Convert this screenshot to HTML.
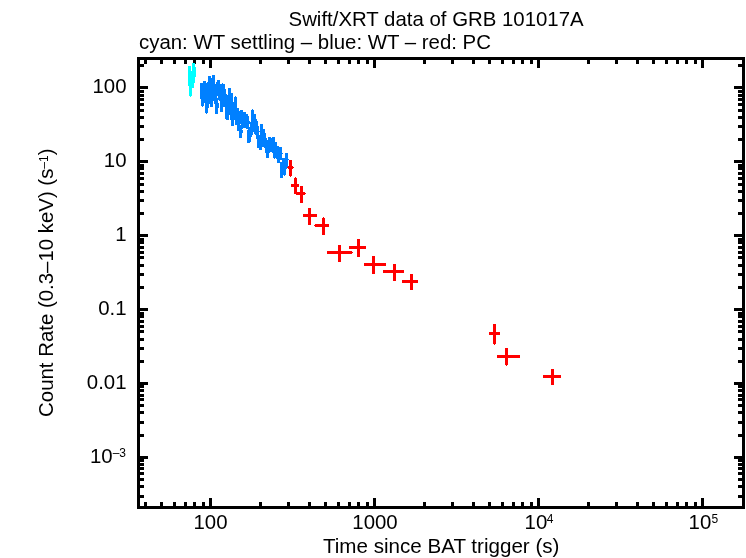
<!DOCTYPE html>
<html><head><meta charset="utf-8"><title>Swift/XRT data of GRB 101017A</title>
<style>
html,body{margin:0;padding:0;background:#fff;}
svg{display:block}
text{font-family:"Liberation Sans",sans-serif;font-size:20.4px;fill:#000}
</style></head><body>
<svg width="746" height="558" viewBox="0 0 746 558">
<rect width="746" height="558" fill="#fff"/>
<g shape-rendering="crispEdges">
<rect x="137" y="57" width="608" height="3" fill="#000"/>
<rect x="137" y="506" width="608" height="3" fill="#000"/>
<rect x="137" y="57" width="3" height="452" fill="#000"/>
<rect x="742" y="57" width="3" height="452" fill="#000"/>
<rect x="144" y="57" width="3" height="7" fill="#000"/>
<rect x="144" y="502" width="3" height="7" fill="#000"/>
<rect x="160" y="57" width="3" height="7" fill="#000"/>
<rect x="160" y="502" width="3" height="7" fill="#000"/>
<rect x="173" y="57" width="3" height="7" fill="#000"/>
<rect x="173" y="502" width="3" height="7" fill="#000"/>
<rect x="184" y="57" width="3" height="7" fill="#000"/>
<rect x="184" y="502" width="3" height="7" fill="#000"/>
<rect x="193" y="57" width="3" height="7" fill="#000"/>
<rect x="193" y="502" width="3" height="7" fill="#000"/>
<rect x="202" y="57" width="3" height="7" fill="#000"/>
<rect x="202" y="502" width="3" height="7" fill="#000"/>
<rect x="209" y="57" width="3" height="11" fill="#000"/>
<rect x="209" y="498" width="3" height="11" fill="#000"/>
<rect x="259" y="57" width="3" height="7" fill="#000"/>
<rect x="259" y="502" width="3" height="7" fill="#000"/>
<rect x="287" y="57" width="3" height="7" fill="#000"/>
<rect x="287" y="502" width="3" height="7" fill="#000"/>
<rect x="308" y="57" width="3" height="7" fill="#000"/>
<rect x="308" y="502" width="3" height="7" fill="#000"/>
<rect x="324" y="57" width="3" height="7" fill="#000"/>
<rect x="324" y="502" width="3" height="7" fill="#000"/>
<rect x="337" y="57" width="3" height="7" fill="#000"/>
<rect x="337" y="502" width="3" height="7" fill="#000"/>
<rect x="348" y="57" width="3" height="7" fill="#000"/>
<rect x="348" y="502" width="3" height="7" fill="#000"/>
<rect x="357" y="57" width="3" height="7" fill="#000"/>
<rect x="357" y="502" width="3" height="7" fill="#000"/>
<rect x="366" y="57" width="3" height="7" fill="#000"/>
<rect x="366" y="502" width="3" height="7" fill="#000"/>
<rect x="373" y="57" width="3" height="11" fill="#000"/>
<rect x="373" y="498" width="3" height="11" fill="#000"/>
<rect x="423" y="57" width="3" height="7" fill="#000"/>
<rect x="423" y="502" width="3" height="7" fill="#000"/>
<rect x="451" y="57" width="3" height="7" fill="#000"/>
<rect x="451" y="502" width="3" height="7" fill="#000"/>
<rect x="472" y="57" width="3" height="7" fill="#000"/>
<rect x="472" y="502" width="3" height="7" fill="#000"/>
<rect x="488" y="57" width="3" height="7" fill="#000"/>
<rect x="488" y="502" width="3" height="7" fill="#000"/>
<rect x="501" y="57" width="3" height="7" fill="#000"/>
<rect x="501" y="502" width="3" height="7" fill="#000"/>
<rect x="512" y="57" width="3" height="7" fill="#000"/>
<rect x="512" y="502" width="3" height="7" fill="#000"/>
<rect x="521" y="57" width="3" height="7" fill="#000"/>
<rect x="521" y="502" width="3" height="7" fill="#000"/>
<rect x="530" y="57" width="3" height="7" fill="#000"/>
<rect x="530" y="502" width="3" height="7" fill="#000"/>
<rect x="537" y="57" width="3" height="11" fill="#000"/>
<rect x="537" y="498" width="3" height="11" fill="#000"/>
<rect x="587" y="57" width="3" height="7" fill="#000"/>
<rect x="587" y="502" width="3" height="7" fill="#000"/>
<rect x="615" y="57" width="3" height="7" fill="#000"/>
<rect x="615" y="502" width="3" height="7" fill="#000"/>
<rect x="636" y="57" width="3" height="7" fill="#000"/>
<rect x="636" y="502" width="3" height="7" fill="#000"/>
<rect x="652" y="57" width="3" height="7" fill="#000"/>
<rect x="652" y="502" width="3" height="7" fill="#000"/>
<rect x="665" y="57" width="3" height="7" fill="#000"/>
<rect x="665" y="502" width="3" height="7" fill="#000"/>
<rect x="676" y="57" width="3" height="7" fill="#000"/>
<rect x="676" y="502" width="3" height="7" fill="#000"/>
<rect x="685" y="57" width="3" height="7" fill="#000"/>
<rect x="685" y="502" width="3" height="7" fill="#000"/>
<rect x="694" y="57" width="3" height="7" fill="#000"/>
<rect x="694" y="502" width="3" height="7" fill="#000"/>
<rect x="701" y="57" width="3" height="11" fill="#000"/>
<rect x="701" y="498" width="3" height="11" fill="#000"/>
<rect x="137" y="495" width="7" height="3" fill="#000"/>
<rect x="738" y="495" width="7" height="3" fill="#000"/>
<rect x="137" y="485" width="7" height="3" fill="#000"/>
<rect x="738" y="485" width="7" height="3" fill="#000"/>
<rect x="137" y="478" width="7" height="3" fill="#000"/>
<rect x="738" y="478" width="7" height="3" fill="#000"/>
<rect x="137" y="472" width="7" height="3" fill="#000"/>
<rect x="738" y="472" width="7" height="3" fill="#000"/>
<rect x="137" y="467" width="7" height="3" fill="#000"/>
<rect x="738" y="467" width="7" height="3" fill="#000"/>
<rect x="137" y="463" width="7" height="3" fill="#000"/>
<rect x="738" y="463" width="7" height="3" fill="#000"/>
<rect x="137" y="459" width="7" height="3" fill="#000"/>
<rect x="738" y="459" width="7" height="3" fill="#000"/>
<rect x="137" y="456" width="11" height="3" fill="#000"/>
<rect x="734" y="456" width="11" height="3" fill="#000"/>
<rect x="137" y="434" width="7" height="3" fill="#000"/>
<rect x="738" y="434" width="7" height="3" fill="#000"/>
<rect x="137" y="421" width="7" height="3" fill="#000"/>
<rect x="738" y="421" width="7" height="3" fill="#000"/>
<rect x="137" y="411" width="7" height="3" fill="#000"/>
<rect x="738" y="411" width="7" height="3" fill="#000"/>
<rect x="137" y="404" width="7" height="3" fill="#000"/>
<rect x="738" y="404" width="7" height="3" fill="#000"/>
<rect x="137" y="398" width="7" height="3" fill="#000"/>
<rect x="738" y="398" width="7" height="3" fill="#000"/>
<rect x="137" y="394" width="7" height="3" fill="#000"/>
<rect x="738" y="394" width="7" height="3" fill="#000"/>
<rect x="137" y="389" width="7" height="3" fill="#000"/>
<rect x="738" y="389" width="7" height="3" fill="#000"/>
<rect x="137" y="385" width="7" height="3" fill="#000"/>
<rect x="738" y="385" width="7" height="3" fill="#000"/>
<rect x="137" y="382" width="11" height="3" fill="#000"/>
<rect x="734" y="382" width="11" height="3" fill="#000"/>
<rect x="137" y="360" width="7" height="3" fill="#000"/>
<rect x="738" y="360" width="7" height="3" fill="#000"/>
<rect x="137" y="347" width="7" height="3" fill="#000"/>
<rect x="738" y="347" width="7" height="3" fill="#000"/>
<rect x="137" y="338" width="7" height="3" fill="#000"/>
<rect x="738" y="338" width="7" height="3" fill="#000"/>
<rect x="137" y="330" width="7" height="3" fill="#000"/>
<rect x="738" y="330" width="7" height="3" fill="#000"/>
<rect x="137" y="325" width="7" height="3" fill="#000"/>
<rect x="738" y="325" width="7" height="3" fill="#000"/>
<rect x="137" y="320" width="7" height="3" fill="#000"/>
<rect x="738" y="320" width="7" height="3" fill="#000"/>
<rect x="137" y="315" width="7" height="3" fill="#000"/>
<rect x="738" y="315" width="7" height="3" fill="#000"/>
<rect x="137" y="312" width="7" height="3" fill="#000"/>
<rect x="738" y="312" width="7" height="3" fill="#000"/>
<rect x="137" y="308" width="11" height="3" fill="#000"/>
<rect x="734" y="308" width="11" height="3" fill="#000"/>
<rect x="137" y="286" width="7" height="3" fill="#000"/>
<rect x="738" y="286" width="7" height="3" fill="#000"/>
<rect x="137" y="273" width="7" height="3" fill="#000"/>
<rect x="738" y="273" width="7" height="3" fill="#000"/>
<rect x="137" y="264" width="7" height="3" fill="#000"/>
<rect x="738" y="264" width="7" height="3" fill="#000"/>
<rect x="137" y="256" width="7" height="3" fill="#000"/>
<rect x="738" y="256" width="7" height="3" fill="#000"/>
<rect x="137" y="251" width="7" height="3" fill="#000"/>
<rect x="738" y="251" width="7" height="3" fill="#000"/>
<rect x="137" y="246" width="7" height="3" fill="#000"/>
<rect x="738" y="246" width="7" height="3" fill="#000"/>
<rect x="137" y="241" width="7" height="3" fill="#000"/>
<rect x="738" y="241" width="7" height="3" fill="#000"/>
<rect x="137" y="238" width="7" height="3" fill="#000"/>
<rect x="738" y="238" width="7" height="3" fill="#000"/>
<rect x="137" y="234" width="11" height="3" fill="#000"/>
<rect x="734" y="234" width="11" height="3" fill="#000"/>
<rect x="137" y="212" width="7" height="3" fill="#000"/>
<rect x="738" y="212" width="7" height="3" fill="#000"/>
<rect x="137" y="199" width="7" height="3" fill="#000"/>
<rect x="738" y="199" width="7" height="3" fill="#000"/>
<rect x="137" y="190" width="7" height="3" fill="#000"/>
<rect x="738" y="190" width="7" height="3" fill="#000"/>
<rect x="137" y="183" width="7" height="3" fill="#000"/>
<rect x="738" y="183" width="7" height="3" fill="#000"/>
<rect x="137" y="177" width="7" height="3" fill="#000"/>
<rect x="738" y="177" width="7" height="3" fill="#000"/>
<rect x="137" y="172" width="7" height="3" fill="#000"/>
<rect x="738" y="172" width="7" height="3" fill="#000"/>
<rect x="137" y="167" width="7" height="3" fill="#000"/>
<rect x="738" y="167" width="7" height="3" fill="#000"/>
<rect x="137" y="164" width="7" height="3" fill="#000"/>
<rect x="738" y="164" width="7" height="3" fill="#000"/>
<rect x="137" y="160" width="11" height="3" fill="#000"/>
<rect x="734" y="160" width="11" height="3" fill="#000"/>
<rect x="137" y="138" width="7" height="3" fill="#000"/>
<rect x="738" y="138" width="7" height="3" fill="#000"/>
<rect x="137" y="125" width="7" height="3" fill="#000"/>
<rect x="738" y="125" width="7" height="3" fill="#000"/>
<rect x="137" y="116" width="7" height="3" fill="#000"/>
<rect x="738" y="116" width="7" height="3" fill="#000"/>
<rect x="137" y="109" width="7" height="3" fill="#000"/>
<rect x="738" y="109" width="7" height="3" fill="#000"/>
<rect x="137" y="103" width="7" height="3" fill="#000"/>
<rect x="738" y="103" width="7" height="3" fill="#000"/>
<rect x="137" y="98" width="7" height="3" fill="#000"/>
<rect x="738" y="98" width="7" height="3" fill="#000"/>
<rect x="137" y="94" width="7" height="3" fill="#000"/>
<rect x="738" y="94" width="7" height="3" fill="#000"/>
<rect x="137" y="90" width="7" height="3" fill="#000"/>
<rect x="738" y="90" width="7" height="3" fill="#000"/>
<rect x="137" y="86" width="11" height="3" fill="#000"/>
<rect x="734" y="86" width="11" height="3" fill="#000"/>
<rect x="137" y="64" width="7" height="3" fill="#000"/>
<rect x="738" y="64" width="7" height="3" fill="#000"/>
<rect x="188" y="66" width="1" height="20" fill="#0ff"/>
<rect x="189" y="66" width="1" height="30" fill="#0ff"/>
<rect x="190" y="66" width="1" height="31" fill="#0ff"/>
<rect x="191" y="71" width="1" height="25" fill="#0ff"/>
<rect x="192" y="63" width="1" height="25" fill="#0ff"/>
<rect x="193" y="63" width="1" height="25" fill="#0ff"/>
<rect x="194" y="63" width="1" height="20" fill="#0ff"/>
<rect x="195" y="67" width="1" height="10" fill="#0ff"/>
<rect x="200" y="83" width="1" height="16" fill="#0080ff"/>
<rect x="201" y="83" width="1" height="23" fill="#0080ff"/>
<rect x="202" y="83" width="1" height="24" fill="#0080ff"/>
<rect x="203" y="81" width="1" height="25" fill="#0080ff"/>
<rect x="204" y="81" width="1" height="22" fill="#0080ff"/>
<rect x="205" y="81" width="1" height="32" fill="#0080ff"/>
<rect x="206" y="83" width="1" height="31" fill="#0080ff"/>
<rect x="207" y="82" width="1" height="31" fill="#0080ff"/>
<rect x="208" y="76" width="1" height="32" fill="#0080ff"/>
<rect x="209" y="76" width="1" height="28" fill="#0080ff"/>
<rect x="210" y="76" width="1" height="31" fill="#0080ff"/>
<rect x="211" y="78" width="1" height="29" fill="#0080ff"/>
<rect x="212" y="75" width="1" height="32" fill="#0080ff"/>
<rect x="213" y="75" width="1" height="26" fill="#0080ff"/>
<rect x="214" y="75" width="1" height="29" fill="#0080ff"/>
<rect x="215" y="84" width="1" height="30" fill="#0080ff"/>
<rect x="216" y="82" width="1" height="32" fill="#0080ff"/>
<rect x="217" y="80" width="1" height="34" fill="#0080ff"/>
<rect x="218" y="80" width="1" height="28" fill="#0080ff"/>
<rect x="219" y="80" width="1" height="21" fill="#0080ff"/>
<rect x="220" y="84" width="1" height="28" fill="#0080ff"/>
<rect x="221" y="84" width="1" height="28" fill="#0080ff"/>
<rect x="222" y="83" width="1" height="29" fill="#0080ff"/>
<rect x="223" y="84" width="1" height="23" fill="#0080ff"/>
<rect x="224" y="84" width="1" height="23" fill="#0080ff"/>
<rect x="225" y="89" width="1" height="30" fill="#0080ff"/>
<rect x="226" y="94" width="1" height="26" fill="#0080ff"/>
<rect x="227" y="95" width="1" height="25" fill="#0080ff"/>
<rect x="228" y="88" width="1" height="32" fill="#0080ff"/>
<rect x="229" y="88" width="1" height="27" fill="#0080ff"/>
<rect x="230" y="88" width="1" height="32" fill="#0080ff"/>
<rect x="231" y="93" width="1" height="33" fill="#0080ff"/>
<rect x="232" y="93" width="1" height="33" fill="#0080ff"/>
<rect x="233" y="102" width="1" height="24" fill="#0080ff"/>
<rect x="234" y="97" width="1" height="23" fill="#0080ff"/>
<rect x="235" y="96" width="1" height="29" fill="#0080ff"/>
<rect x="236" y="97" width="1" height="28" fill="#0080ff"/>
<rect x="237" y="108" width="1" height="23" fill="#0080ff"/>
<rect x="238" y="108" width="1" height="23" fill="#0080ff"/>
<rect x="239" y="111" width="1" height="27" fill="#0080ff"/>
<rect x="240" y="110" width="1" height="28" fill="#0080ff"/>
<rect x="241" y="110" width="1" height="28" fill="#0080ff"/>
<rect x="242" y="110" width="1" height="23" fill="#0080ff"/>
<rect x="243" y="112" width="1" height="16" fill="#0080ff"/>
<rect x="244" y="112" width="1" height="16" fill="#0080ff"/>
<rect x="245" y="112" width="1" height="16" fill="#0080ff"/>
<rect x="246" y="114" width="1" height="15" fill="#0080ff"/>
<rect x="247" y="114" width="1" height="29" fill="#0080ff"/>
<rect x="248" y="116" width="1" height="27" fill="#0080ff"/>
<rect x="249" y="121" width="1" height="22" fill="#0080ff"/>
<rect x="250" y="122" width="1" height="20" fill="#0080ff"/>
<rect x="251" y="110" width="1" height="27" fill="#0080ff"/>
<rect x="252" y="109" width="1" height="26" fill="#0080ff"/>
<rect x="253" y="110" width="1" height="22" fill="#0080ff"/>
<rect x="254" y="114" width="1" height="20" fill="#0080ff"/>
<rect x="255" y="114" width="1" height="21" fill="#0080ff"/>
<rect x="256" y="119" width="1" height="20" fill="#0080ff"/>
<rect x="257" y="121" width="1" height="27" fill="#0080ff"/>
<rect x="258" y="126" width="1" height="22" fill="#0080ff"/>
<rect x="259" y="131" width="1" height="19" fill="#0080ff"/>
<rect x="260" y="124" width="1" height="26" fill="#0080ff"/>
<rect x="261" y="124" width="1" height="26" fill="#0080ff"/>
<rect x="262" y="124" width="1" height="23" fill="#0080ff"/>
<rect x="263" y="129" width="1" height="18" fill="#0080ff"/>
<rect x="264" y="129" width="1" height="19" fill="#0080ff"/>
<rect x="265" y="133" width="1" height="20" fill="#0080ff"/>
<rect x="266" y="138" width="1" height="20" fill="#0080ff"/>
<rect x="267" y="140" width="1" height="18" fill="#0080ff"/>
<rect x="268" y="137" width="1" height="21" fill="#0080ff"/>
<rect x="269" y="137" width="1" height="16" fill="#0080ff"/>
<rect x="270" y="137" width="1" height="15" fill="#0080ff"/>
<rect x="271" y="138" width="1" height="14" fill="#0080ff"/>
<rect x="272" y="137" width="1" height="16" fill="#0080ff"/>
<rect x="273" y="137" width="1" height="21" fill="#0080ff"/>
<rect x="274" y="137" width="1" height="22" fill="#0080ff"/>
<rect x="275" y="142" width="1" height="16" fill="#0080ff"/>
<rect x="276" y="142" width="1" height="17" fill="#0080ff"/>
<rect x="277" y="146" width="1" height="17" fill="#0080ff"/>
<rect x="278" y="146" width="1" height="17" fill="#0080ff"/>
<rect x="279" y="147" width="1" height="16" fill="#0080ff"/>
<rect x="280" y="147" width="1" height="31" fill="#0080ff"/>
<rect x="281" y="147" width="1" height="31" fill="#0080ff"/>
<rect x="282" y="158" width="1" height="20" fill="#0080ff"/>
<rect x="283" y="158" width="1" height="17" fill="#0080ff"/>
<rect x="284" y="158" width="1" height="18" fill="#0080ff"/>
<rect x="285" y="153" width="1" height="22" fill="#0080ff"/>
<rect x="286" y="153" width="1" height="16" fill="#0080ff"/>
<rect x="287" y="153" width="1" height="14" fill="#0080ff"/>
<rect x="288" y="159" width="1" height="1" fill="#0080ff"/>
<rect x="282" y="153" width="1" height="1" fill="#0080ff"/>
<rect x="242" y="129" width="1" height="1" fill="#fff"/>
<rect x="247" y="129" width="1" height="1" fill="#fff"/>
<rect x="218" y="100" width="1" height="3" fill="#fff"/>
<rect x="217" y="96" width="1" height="2" fill="#fff"/>
<rect x="259" y="132" width="1" height="3" fill="#fff"/>
<rect x="280" y="160" width="1" height="2" fill="#fff"/>
<rect x="281" y="160" width="1" height="2" fill="#fff"/>
<rect x="240" y="124" width="1" height="1" fill="#fff"/>
<rect x="249" y="124" width="1" height="3" fill="#fff"/>
<rect x="290" y="176" width="1" height="1" fill="#f00"/>
<rect x="289" y="160" width="3" height="16" fill="#f00"/>
<rect x="287" y="167" width="1" height="1" fill="#f00"/>
<rect x="293" y="167" width="1" height="1" fill="#f00"/>
<rect x="288" y="166" width="5" height="3" fill="#f00"/>
<rect x="295" y="177" width="1" height="1" fill="#f00"/>
<rect x="294" y="178" width="3" height="16" fill="#f00"/>
<rect x="291" y="184" width="8" height="3" fill="#f00"/>
<rect x="300" y="186" width="3" height="17" fill="#f00"/>
<rect x="305" y="193" width="1" height="1" fill="#f00"/>
<rect x="296" y="192" width="9" height="3" fill="#f00"/>
<rect x="308" y="208" width="3" height="17" fill="#f00"/>
<rect x="303" y="214" width="14" height="3" fill="#f00"/>
<rect x="323" y="217" width="1" height="1" fill="#f00"/>
<rect x="322" y="218" width="3" height="17" fill="#f00"/>
<rect x="314" y="225" width="1" height="1" fill="#f00"/>
<rect x="315" y="224" width="14" height="3" fill="#f00"/>
<rect x="338" y="245" width="3" height="17" fill="#f00"/>
<rect x="352" y="252" width="1" height="1" fill="#f00"/>
<rect x="327" y="251" width="25" height="3" fill="#f00"/>
<rect x="357" y="239" width="3" height="18" fill="#f00"/>
<rect x="349" y="246" width="17" height="3" fill="#f00"/>
<rect x="372" y="256" width="3" height="18" fill="#f00"/>
<rect x="364" y="263" width="22" height="3" fill="#f00"/>
<rect x="393" y="264" width="3" height="17" fill="#f00"/>
<rect x="383" y="270" width="21" height="3" fill="#f00"/>
<rect x="410" y="274" width="3" height="16" fill="#f00"/>
<rect x="402" y="280" width="16" height="3" fill="#f00"/>
<rect x="494" y="344" width="1" height="1" fill="#f00"/>
<rect x="493" y="324" width="3" height="20" fill="#f00"/>
<rect x="489" y="332" width="11" height="3" fill="#f00"/>
<rect x="506" y="365" width="1" height="1" fill="#f00"/>
<rect x="505" y="348" width="3" height="17" fill="#f00"/>
<rect x="497" y="355" width="23" height="3" fill="#f00"/>
<rect x="551" y="369" width="3" height="16" fill="#f00"/>
<rect x="543" y="375" width="18" height="3" fill="#f00"/>
</g>
<g>
<text x="436.1" y="26" text-anchor="middle">Swift/XRT data of GRB 101017A</text>
<text x="139.0" y="48.8" style="font-size:20.42px">cyan: WT settling – blue: WT – red: PC</text>
<text x="441.2" y="553" text-anchor="middle" style="font-size:20.6px">Time since BAT trigger (s)</text>
<text transform="translate(53.2,282.7) rotate(-90)" text-anchor="middle">Count Rate (0.3–10 keV) (s<tspan style="font-size:12px" dy="-5">–1</tspan><tspan dy="5">)</tspan></text>
<text x="126.5" y="93" text-anchor="end">100</text>
<text x="126.5" y="167" text-anchor="end">10</text>
<text x="126.5" y="241" text-anchor="end">1</text>
<text x="126.5" y="315" text-anchor="end">0.1</text>
<text x="126.5" y="389" text-anchor="end">0.01</text>
<text x="126" y="463" text-anchor="end">10<tspan style="font-size:12px" dy="-6">–3</tspan></text>
<text x="210.5" y="529" text-anchor="middle">100</text>
<text x="375" y="529" text-anchor="middle">1000</text>
<text x="524.6" y="529">10<tspan style="font-size:12px" x="546.8" dy="-6">4</tspan></text>
<text x="688.6" y="529">10<tspan style="font-size:12px" x="711.6" dy="-6">5</tspan></text>
</g>
</svg>
</body></html>
